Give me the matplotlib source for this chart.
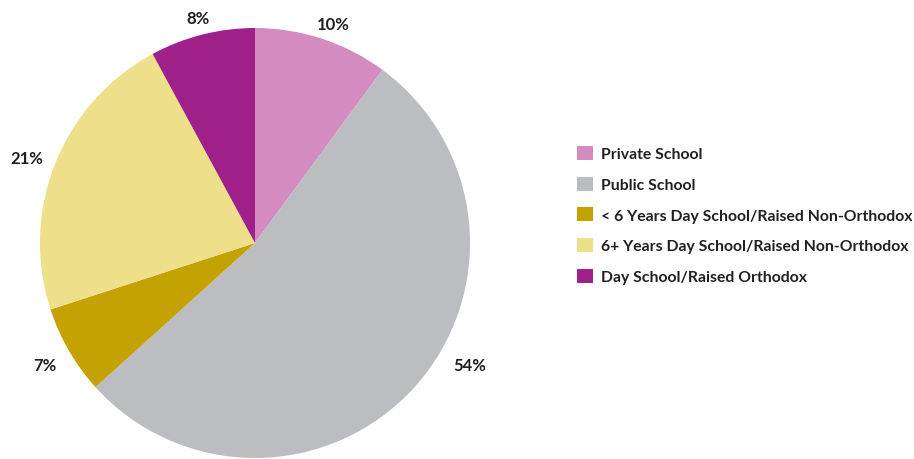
import numpy as np
import matplotlib.pyplot as plt
from matplotlib.patches import Patch

categories = ['Private School', 'Public School', '< 6 Years Day School/Raised Non-Orthodox',
              '6+ Years Day School/Raised Non-Orthodox', 'Day School/Raised Orthodox']
# wedge sizes as drawn in the picture (labels are the published rounded values)
shares = [10.1, 53.2, 6.7, 22.1, 7.9]
pct_labels = ['10%', '54%', '7%', '21%', '8%']
colors = ['#D48BBF', '#BCBDC1', '#C4A204', '#EEDF8A', '#A0208A']

plt.rcParams['font.family'] = ['Lato', 'DejaVu Sans']
text_color = '#231F20'

fig = plt.figure(figsize=(9.14, 4.6), dpi=100)
ax = fig.add_axes([40 / 914, 1 / 460, 430 / 914, 430 / 460])

wedges, texts = ax.pie(shares, labels=pct_labels, colors=colors, startangle=90,
                       counterclock=False, labeldistance=1.1,
                       wedgeprops=dict(linewidth=0),
                       textprops=dict(fontsize=12, fontweight='bold', color=text_color))

# label placement: distance from centre and angular nudge per label
label_dist = [1.08, 1.147, 1.13, 1.13, 1.08]
label_nudge = [-1.4, 12.5, 0, 1.4, 0]
for w, t, d, n in zip(wedges, texts, label_dist, label_nudge):
    ang = np.deg2rad((w.theta1 + w.theta2) / 2 + n)
    t.set_position((d * np.cos(ang), d * np.sin(ang)))
    t.set_ha('center')
    t.set_va('center')
    t.set_clip_on(False)
ax.set_xlim(-1, 1)
ax.set_ylim(-1, 1)
ax.set_aspect('equal')

handles = [Patch(facecolor=c, edgecolor='none') for c in colors]
leg = fig.legend(handles, categories, loc='center left', bbox_to_anchor=(577 / 914, 244 / 460),
                 frameon=False, fontsize=11.3, handlelength=1.0, handleheight=1.0,
                 handletextpad=0.55, labelspacing=0.97, borderpad=0, borderaxespad=0)
for t in leg.get_texts():
    t.set_fontweight('bold')
    t.set_color(text_color)

fig.savefig('out.png', dpi=100)
